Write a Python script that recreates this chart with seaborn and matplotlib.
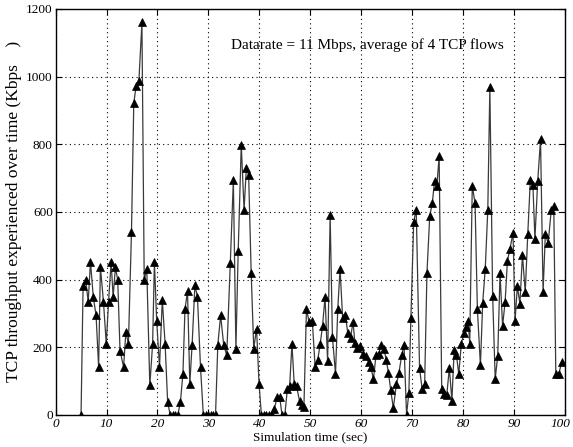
import matplotlib
matplotlib.use("Agg")
import matplotlib.pyplot as plt
import matplotlib.transforms as mtransforms
import seaborn as sns
import pandas as pd

# Sample times (sec) and averaged TCP throughput (Kbps)
time_sec = [
    5.0, 5.4, 5.9, 6.4, 6.85, 7.4, 7.95, 8.45, 8.8, 9.4, 9.95, 10.4, 10.9, 11.3, 11.75,
    12.2, 12.65, 13.35, 13.8, 14.3, 14.9, 15.35, 15.8, 16.35, 16.95,
    17.4, 17.9, 18.5, 19.05, 19.4, 19.85, 20.4, 20.95, 21.5, 22.0, 22.5, 23.0, 23.5, 24.0,
    24.5, 25.0, 25.4, 25.9, 26.35, 26.8, 27.35, 27.85, 28.45,
    29.0, 29.5, 30.0, 30.5, 31.0, 31.4, 31.85, 32.4, 33.0, 33.6, 34.3, 34.9, 35.4, 35.85,
    36.45, 37.0, 37.45, 37.9, 38.4, 38.9, 39.45, 39.95,
    40.4, 40.9, 41.4, 41.9, 42.4, 42.95, 43.5, 44.0, 44.45, 45.0, 45.5, 45.95, 46.4, 46.85,
    47.3, 47.9, 48.35, 48.75, 49.25, 49.75,
    50.4, 50.95, 51.45, 51.95, 52.4, 52.9, 53.4, 53.9, 54.35, 54.95, 55.4, 55.85, 56.35,
    56.9, 57.35, 57.9, 58.4, 58.75, 59.25, 59.8, 60.3, 60.9, 61.45, 61.9, 62.4, 62.9, 63.4,
    63.95, 64.45, 64.9, 65.35, 65.8, 66.3, 66.9, 67.4, 67.95, 68.4, 68.9, 69.35, 69.75,
    70.3, 70.8, 71.45, 71.95, 72.45, 72.9, 73.45, 73.95, 74.4, 74.85, 75.3, 75.8, 76.3,
    76.8, 77.3, 77.8, 78.25, 78.7, 79.15, 79.65, 80.2, 80.6, 81.0, 81.3, 81.8, 82.35, 82.8,
    83.4, 83.85, 84.35, 84.85, 85.25, 85.8, 86.3, 86.8, 87.25, 87.75, 88.25, 88.7, 89.2, 89.8,
    90.2, 90.65, 91.15, 91.65, 92.2, 92.7, 93.2, 93.7, 94.1, 94.65, 95.2, 95.7, 96.15, 96.7,
    97.3, 97.8, 98.2, 98.8, 99.35,
]
throughput_kbps = [
    0, 380, 400, 334, 452, 349, 294, 141, 437, 334, 210, 334, 452, 349, 437,
    398, 190, 141, 245, 210, 541, 921, 971, 986, 1160,
    398, 432, 87, 210, 452, 277, 141, 340, 210, 37, 0, 0, 0, 0,
    37, 121, 312, 365, 92, 207, 383, 349, 141,
    0, 0, 0, 0, 0, 0, 207, 294, 207, 176, 449, 694, 196, 484,
    798, 607, 729, 709, 418, 196, 255, 90,
    0, 0, 0, 0, 0, 18, 52, 52, 0, 0, 75, 85, 210, 90,
    85, 40, 30, 22, 314, 275,
    278, 141, 161, 210, 262, 349, 158, 590, 230, 121, 314, 432, 285,
    294, 243, 228, 275, 213, 198, 202, 180, 174, 156, 141, 105, 176, 180,
    207, 196, 163, 124, 72, 20, 90, 124, 176, 207, 0, 65, 285,
    570, 607, 138, 77, 90, 418, 588, 625, 692, 677, 764, 75, 62,
    60, 138, 42, 193, 176, 120, 210, 243, 260, 278, 210, 677, 625, 314,
    146, 332, 432, 607, 968, 352, 107, 174, 418, 263, 334, 455, 490, 539,
    278, 380, 329, 472, 363, 536, 694, 680, 521, 691, 814, 363, 536, 507,
    605, 618, 121, 121, 156,
]

x_ticks = list(range(0, 101, 10))
y_ticks = list(range(0, 1201, 200))
annotation = "Datarate = 11 Mbps, average of 4 TCP flows"

sns.set_theme(style="white")
plt.rcParams["font.family"] = ["Liberation Serif", "DejaVu Serif"]

df = pd.DataFrame({"time": time_sec, "tput": throughput_kbps})

fig = plt.figure(figsize=(5.73, 4.47), dpi=100)
ax = fig.add_axes([0.097, 0.072, 0.889, 0.908])

sns.lineplot(data=df, x="time", y="tput", ax=ax, estimator=None, sort=False,
             color="#3a3a3a", linewidth=0.9, marker="^", markersize=6,
             markerfacecolor="black", markeredgecolor="black", markeredgewidth=0.5)

ax.set_xlim(0, 100)
ax.set_ylim(0, 1200)
ax.set_xticks(x_ticks)
ax.set_yticks(y_ticks)
ax.set_xticklabels([str(v) for v in x_ticks], fontstyle="italic", fontsize=9.5)
ax.set_yticklabels([str(v) for v in y_ticks], fontsize=9.5)
ax.grid(True, linestyle=(0, (1, 3)), color="black", linewidth=0.8)
ax.tick_params(direction="in", length=4, width=0.8, top=True, right=True,
               bottom=True, left=True, pad=2, colors="black")
for s in ax.spines.values():
    s.set_color("black")
    s.set_linewidth(1.0)

# nudge the last x tick label so it stays inside the figure
last = ax.get_xticklabels()[-1]
last.set_transform(last.get_transform() +
                   mtransforms.ScaledTranslation(-5 / 100, 0, fig.dpi_scale_trans))

ax.set_xlabel("Simulation time (sec)", fontsize=9.5, labelpad=1, color="black")
ax.set_ylabel("TCP throughput experienced over time (Kbps    )", fontsize=12.5,
              labelpad=3, color="black")
ax.text(34.5, 1094, annotation, fontsize=11, ha="left", va="center", color="black")

fig.savefig("out.png", dpi=100)
